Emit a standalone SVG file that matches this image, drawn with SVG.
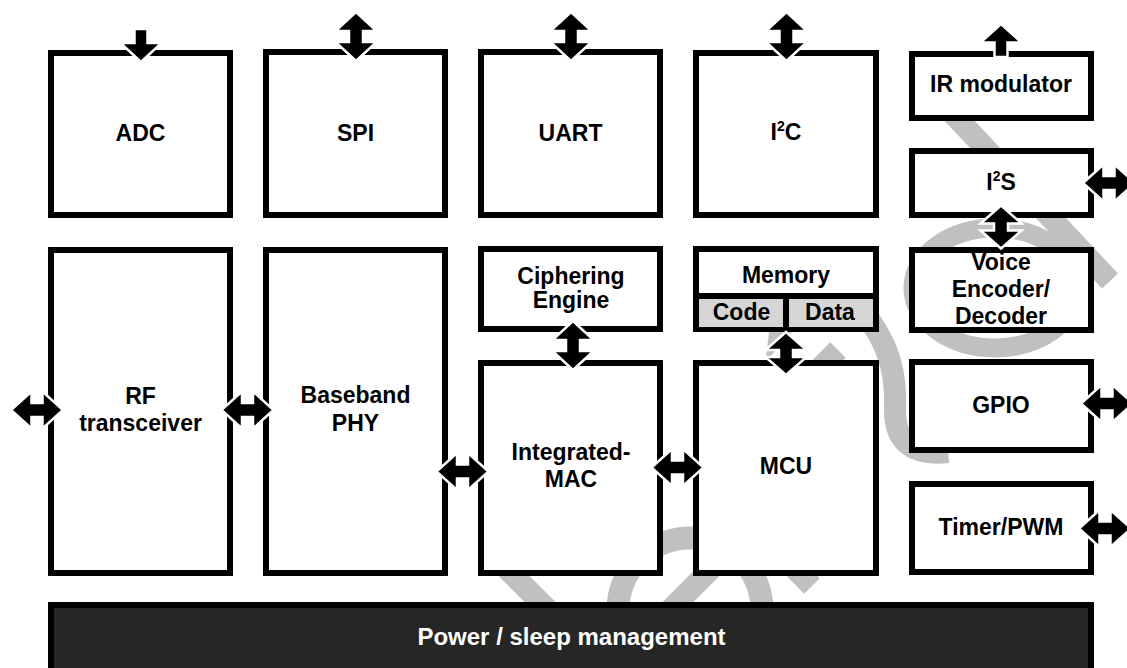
<svg xmlns="http://www.w3.org/2000/svg" xmlns:xlink="http://www.w3.org/1999/xlink" width="1127" height="668" viewBox="0 0 1127 668">
  <style>
    .box { fill: #ffffff; stroke: #000000; stroke-width: 6; }
    .cell { fill: #d6d6d6; }
    .rule { stroke: #000000; stroke-width: 6; fill: none; }
    .bar { fill: #262626; stroke: #000000; stroke-width: 6; }
    .lbl { font-family: "Liberation Sans", Arial, sans-serif; font-size: 23px; font-weight: bold; fill: #000000; text-anchor: middle; }
    .lbl-w { fill: #ffffff; font-size: 24px; }
    .arr { fill: #000000; stroke: #ffffff; stroke-width: 2.5; stroke-linejoin: miter; }
    .wm { fill: none; stroke: #c0c0c0; stroke-linecap: butt; }
    .wm-f { fill: #c0c0c0; }
  </style>
  <defs>
    <!-- double-headed vertical arrow, 49 long -->
    <path id="dblV" d="M0,-24.5 L20.5,-5.5 H7 V5.5 H20.5 L0,24.5 L-20.5,5.5 H-7 V-5.5 H-20.5 Z"/>
    <!-- shorter double-headed vertical arrow, 43 long -->
    <path id="dblVs" d="M0,-21.5 L20.5,-3.5 H7 V3.5 H20.5 L0,21.5 L-20.5,3.5 H-7 V-3.5 H-20.5 Z"/>
    <!-- double-headed horizontal arrow, 52 long -->
    <path id="dblH" d="M-26,0 L-5.5,-18.5 V-7 H5.5 V-18.5 L26,0 L5.5,18.5 V7 H-5.5 V18.5 Z"/>
  </defs>

  <rect width="1127" height="668" fill="#ffffff"/>

  <!-- background watermark strokes (covered by the blocks) -->
  <g id="watermark">
    <path class="wm" stroke-width="22" d="M940,100 L1110,281"/>
    <ellipse class="wm" stroke-width="19" cx="995" cy="288" rx="82" ry="60"/>
    <path class="wm" stroke-width="22" d="M850,295 C885,335 897,365 895,410 Q895,458 948,452"/>
    <path class="wm" stroke-width="22" d="M838,350 L760,428"/>
    <polygon class="wm-f" points="769,332 792,332 770,357 766,357"/>
    <path class="wm" stroke-width="22" d="M495,557 L560,622"/>
    <circle class="wm" stroke-width="23" cx="690" cy="610" r="72"/>
    <path class="wm" stroke-width="22" d="M650,630 L730,550"/>
    <path class="wm" stroke-width="22" d="M778,552 L812,586"/>
  </g>

  <!-- top row peripherals -->
  <g id="adc">
    <rect class="box" x="51" y="53" width="179" height="162"/>
    <text class="lbl" x="140.5" y="141">ADC</text>
  </g>
  <g id="spi">
    <rect class="box" x="266" y="52" width="179" height="163"/>
    <text class="lbl" x="355.5" y="141">SPI</text>
  </g>
  <g id="uart">
    <rect class="box" x="481" y="52" width="179" height="163"/>
    <text class="lbl" x="570.5" y="141">UART</text>
  </g>
  <g id="i2c">
    <rect class="box" x="696" y="53" width="180" height="162"/>
    <text class="lbl" x="786" y="140">I<tspan font-size="14" dy="-9">2</tspan><tspan dy="9">C</tspan></text>
  </g>

  <!-- right column -->
  <g id="ir-modulator">
    <rect class="box" x="912" y="54" width="179" height="64"/>
    <text class="lbl" x="1001" y="92" font-size="21">IR modulator</text>
  </g>
  <g id="i2s">
    <rect class="box" x="912" y="151" width="179" height="64"/>
    <text class="lbl" x="1001" y="190">I<tspan font-size="14" dy="-9">2</tspan><tspan dy="9">S</tspan></text>
  </g>
  <g id="voice-codec">
    <rect class="box" x="912" y="250" width="179" height="80"/>
    <text class="lbl" x="1001" y="270">Voice</text>
    <text class="lbl" x="1001" y="297">Encoder/</text>
    <text class="lbl" x="1001" y="324">Decoder</text>
  </g>
  <g id="gpio">
    <rect class="box" x="912" y="362" width="179" height="88"/>
    <text class="lbl" x="1001" y="413">GPIO</text>
  </g>
  <g id="timer-pwm">
    <rect class="box" x="912" y="484" width="179" height="88"/>
    <text class="lbl" x="1001" y="535">Timer/PWM</text>
  </g>

  <!-- radio / baseband path -->
  <g id="rf-transceiver">
    <rect class="box" x="51" y="250" width="179" height="323"/>
    <text class="lbl" x="140.5" y="404">RF</text>
    <text class="lbl" x="140.5" y="431">transceiver</text>
  </g>
  <g id="baseband-phy">
    <rect class="box" x="266" y="250" width="179" height="323"/>
    <text class="lbl" x="355.5" y="403">Baseband</text>
    <text class="lbl" x="355.5" y="431">PHY</text>
  </g>
  <g id="ciphering-engine">
    <rect class="box" x="481" y="249" width="179" height="80"/>
    <text class="lbl" x="571" y="284">Ciphering</text>
    <text class="lbl" x="571" y="308">Engine</text>
  </g>
  <g id="integrated-mac">
    <rect class="box" x="481" y="363" width="179" height="210"/>
    <text class="lbl" x="571" y="460">Integrated-</text>
    <text class="lbl" x="571" y="487">MAC</text>
  </g>
  <g id="memory">
    <rect class="box" x="696" y="249" width="180" height="80"/>
    <rect class="cell" x="699" y="299" width="174" height="28"/>
    <line class="rule" x1="699" y1="296" x2="873" y2="296"/>
    <line class="rule" x1="786" y1="299" x2="786" y2="327"/>
    <text class="lbl" x="786" y="283">Memory</text>
    <text class="lbl" x="741.5" y="320" font-size="21">Code</text>
    <text class="lbl" x="830" y="320" font-size="21">Data</text>
  </g>
  <g id="mcu">
    <rect class="box" x="696" y="363" width="180" height="210"/>
    <text class="lbl" x="786" y="474">MCU</text>
  </g>

  <g id="power-management">
    <rect class="bar" x="51" y="605" width="1040" height="70"/>
    <text class="lbl lbl-w" x="571.5" y="645">Power / sleep management</text>
  </g>

  <!-- connectors -->
  <g id="connectors">
    <path class="arr" d="M134.5,29 H147.5 V43 H161.5 L141,62 L120.5,43 H134.5 Z"/>
    <use class="arr" xlink:href="#dblV" x="356" y="36.5"/>
    <use class="arr" xlink:href="#dblV" x="571" y="36.5"/>
    <use class="arr" xlink:href="#dblV" x="786.5" y="36.5"/>
    <path class="arr" d="M1001,24 L1021.5,42.5 H1007.5 V57 H994.5 V42.5 H980.5 Z"/>
    <use class="arr" xlink:href="#dblH" x="1109" y="183"/>
    <use class="arr" xlink:href="#dblVs" x="1001" y="227"/>
    <use class="arr" xlink:href="#dblH" x="1107" y="403.5"/>
    <use class="arr" xlink:href="#dblH" x="1105" y="528.5"/>
    <use class="arr" xlink:href="#dblV" x="573" y="345.5"/>
    <use class="arr" xlink:href="#dblVs" x="786" y="353.5"/>
    <use class="arr" xlink:href="#dblH" x="37" y="410"/>
    <use class="arr" xlink:href="#dblH" x="247.5" y="410"/>
    <use class="arr" xlink:href="#dblH" x="462.5" y="471.5"/>
    <use class="arr" xlink:href="#dblH" x="677.5" y="467.5"/>
  </g>
</svg>
